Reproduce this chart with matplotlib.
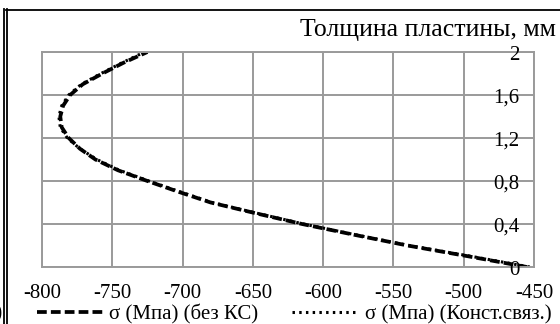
"""Толщина пластины vs напряжение"""

import matplotlib.pyplot as plt
from matplotlib.lines import Line2D

plt.rcParams['font.family'] = ['Liberation Serif', 'DejaVu Serif']

# толщина пластины, мм
thickness = [0.0, 0.1, 0.2, 0.3, 0.4, 0.5, 0.6, 0.7, 0.8, 0.9, 1.0,
             1.1, 1.2, 1.3, 1.4, 1.5, 1.6, 1.7, 1.8, 1.9, 2.0]
# σ (Мпа) (без КС)
sigma_bez_ks = [-455, -497, -540, -578, -615, -648, -680, -703, -725, -746, -762,
                -773, -781, -786, -787, -785, -780, -771, -757, -742, -725]
# σ (Мпа) (Конст.связ.)
sigma_konst = [-453, -495, -539, -577, -614, -647, -679, -702, -724, -745, -761,
               -773, -782, -787, -788, -786, -781, -772, -758, -743, -727]

x_ticks = [-800, -750, -700, -650, -600, -550, -500, -450]
y_ticks = [0, 0.4, 0.8, 1.2, 1.6, 2.0]
y_tick_labels = ['0', '0,4', '0,8', '1,2', '1,6', '2']

W, H = 560, 324
fig = plt.figure(figsize=(W / 100, H / 100), dpi=100)
ax = fig.add_axes([42 / W, 1 - 267 / H, 492 / W, 215 / H])

grid_col = '#9a9a9a'
l1, = ax.plot(sigma_bez_ks, thickness, color='black', linewidth=2.7,
              dashes=(2.6, 1.1), label='σ (Мпа) (без КС)')
l2, = ax.plot(sigma_konst, thickness, color='black', linewidth=2.2,
              dashes=(0.8, 1.4), label='σ (Мпа) (Конст.связ.)')

ax.set_xlim(-800, -450)
ax.set_ylim(0, 2)
ax.set_xticks(x_ticks)
ax.set_xticklabels([str(v) for v in x_ticks])
ax.set_yticks(y_ticks)
ax.set_yticklabels([])
ax.grid(True, color=grid_col, linewidth=1.4)
ax.set_axisbelow(True)
for s in ax.spines.values():
    s.set_color(grid_col)
    s.set_linewidth(1.4)
ax.tick_params(axis='x', length=0, labelsize=15, pad=12)
ax.tick_params(axis='y', length=0)

# подписи оси y внутри области графика, у правой оси
for v, lab in zip(y_ticks, y_tick_labels):
    ax.text(0.97, v - 0.03, lab, transform=ax.get_yaxis_transform(),
            ha='right', va='center', fontsize=15)

fig.text(556 / W, 1 - 30 / H, 'Толщина пластины, мм', ha='right', va='center',
         fontsize=18.5)

fig.legend(handles=[l1, l2], ncol=2, loc='center', frameon=False,
           bbox_to_anchor=(0.525, 1 - 314.5 / H), fontsize=15,
           handlelength=3.2, handletextpad=0.3, columnspacing=1.6,
           borderaxespad=0)

# рамка
fig.add_artist(Line2D([3.5 / W, 3.5 / W], [0, 1 - 9 / H], color='black', linewidth=1.3))
fig.add_artist(Line2D([6.5 / W, 6.5 / W], [0, 1 - 9 / H], color='black', linewidth=1.3))
fig.add_artist(Line2D([6 / W, 1], [1 - 10 / H, 1 - 10 / H], color='black', linewidth=1.3))
fig.text(3 / W, 1 - 314 / H, '0)', ha='right', va='center', fontsize=15)

fig.savefig('out.png', dpi=100)
